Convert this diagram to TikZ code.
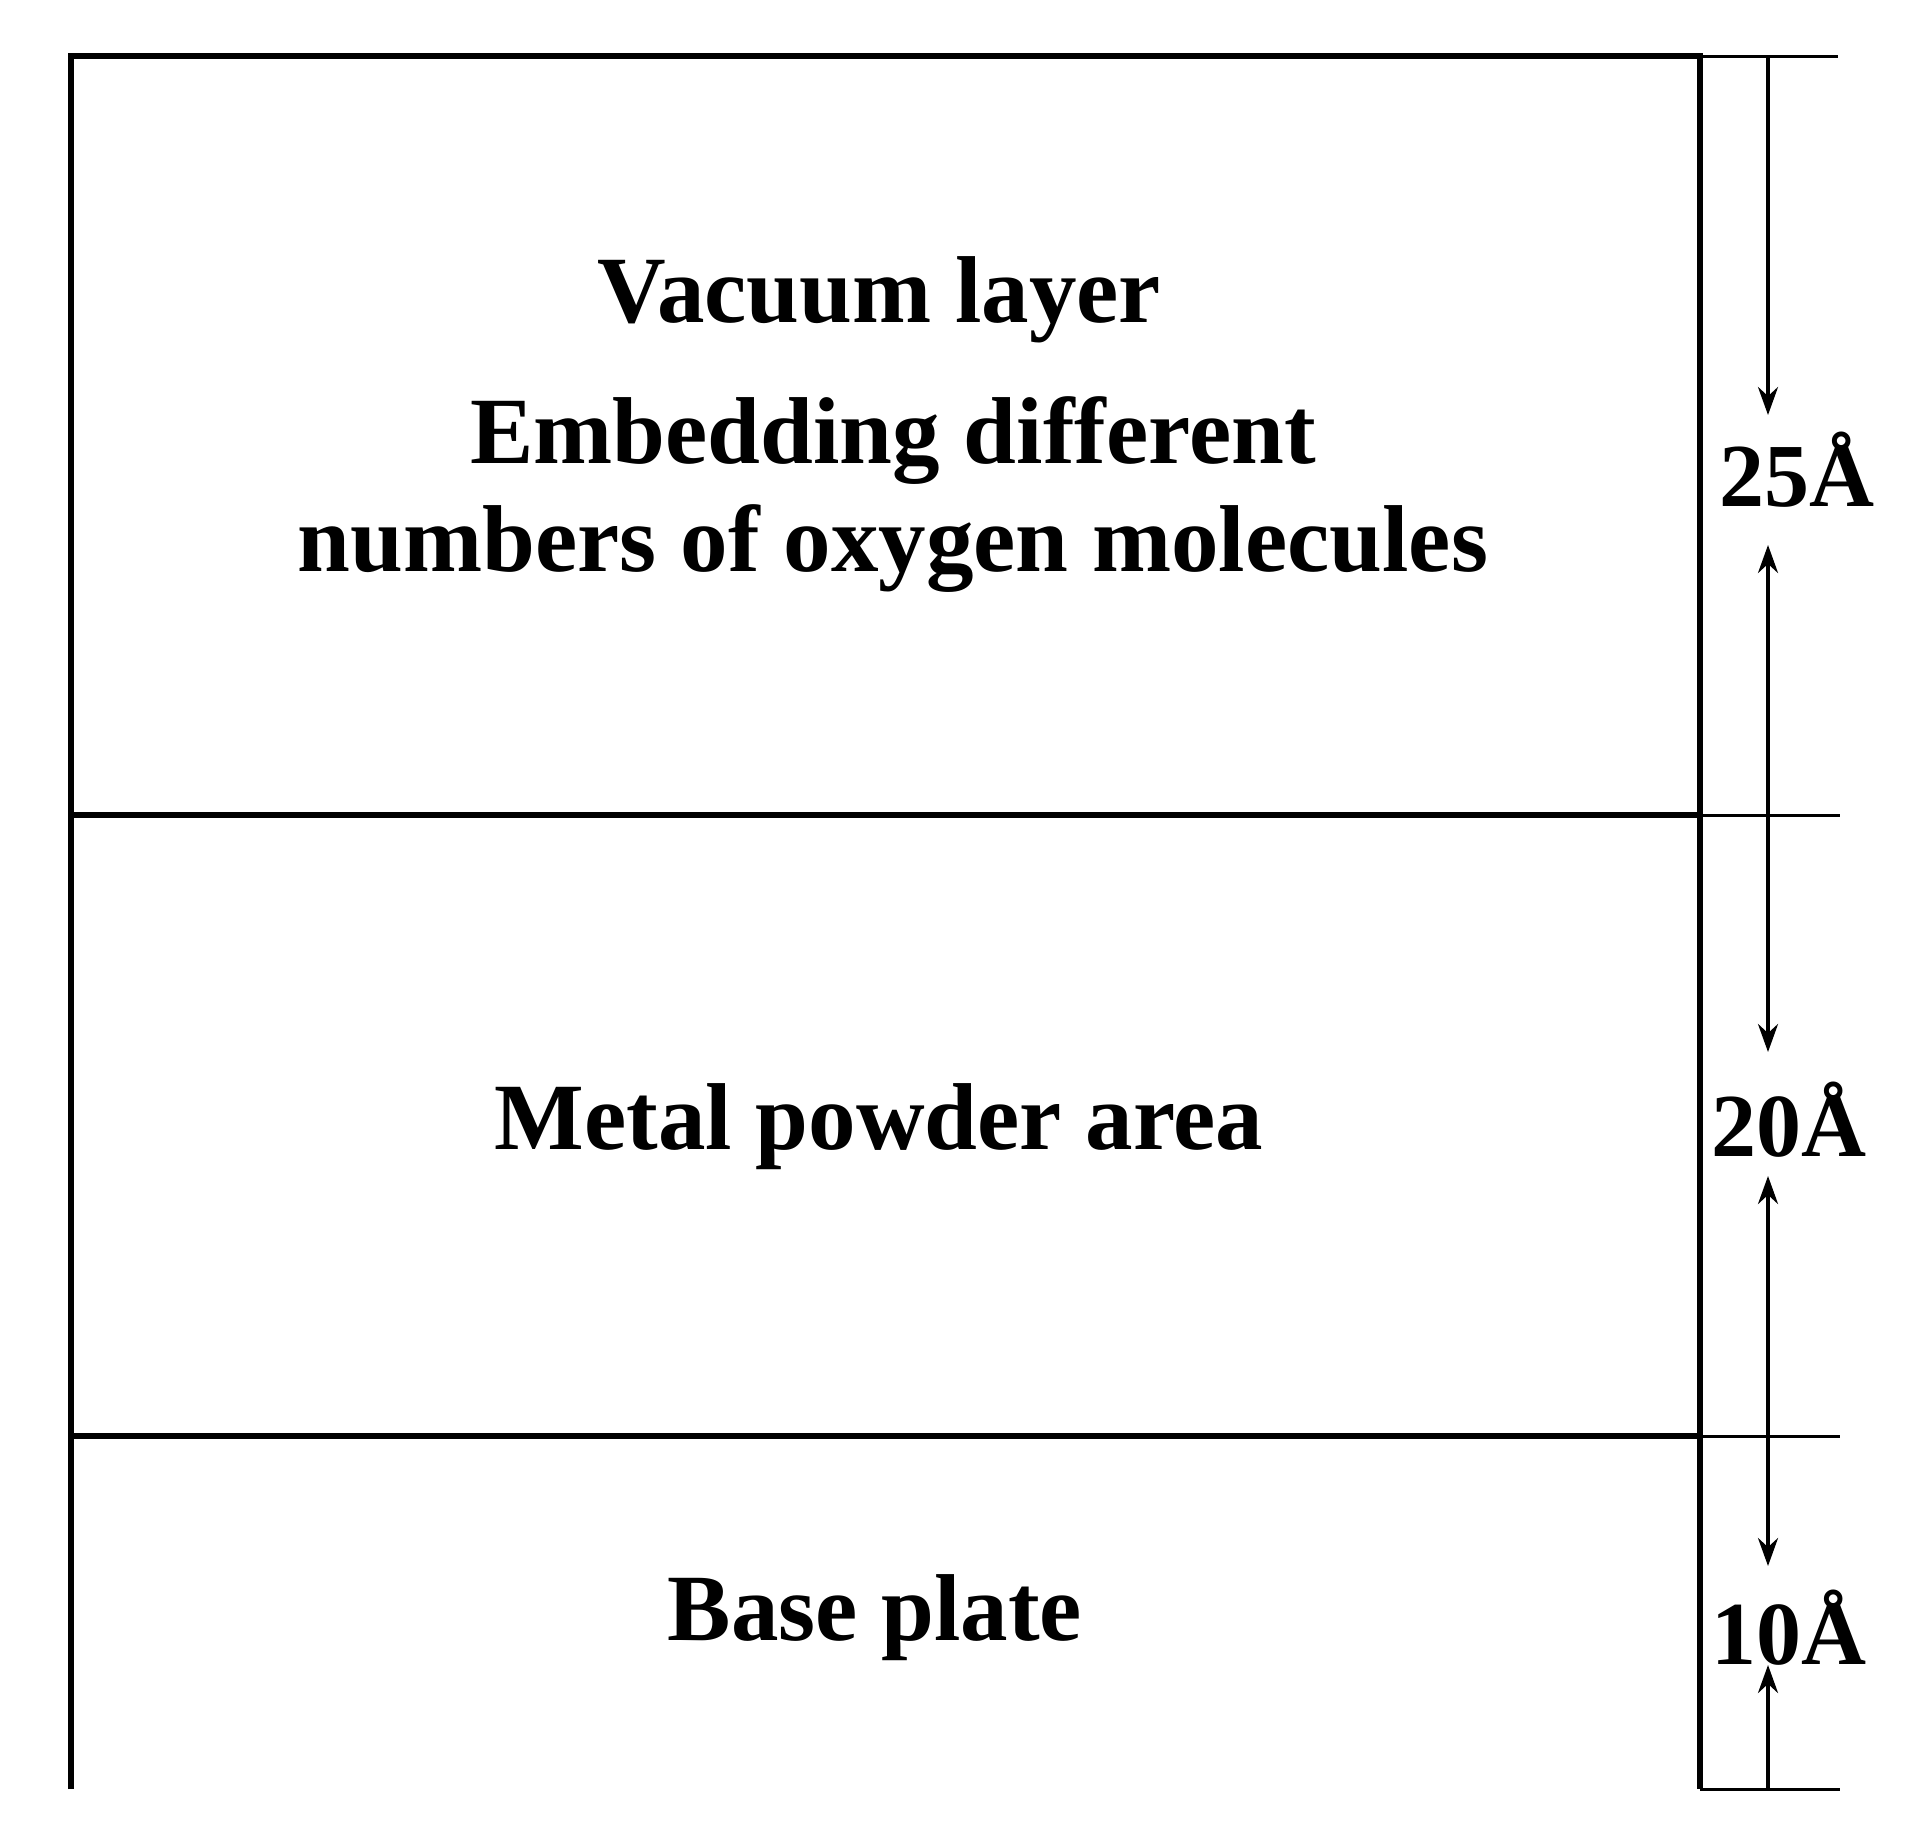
\documentclass[tikz,border=0pt]{standalone}
\usepackage{fontspec}
\setmainfont{Liberation Serif}
\usetikzlibrary{arrows.meta}
\begin{document}
\begin{tikzpicture}[x=0.5pt,y=-0.5pt,
  ln/.style={line width=3pt},
  ext/.style={line width=1.5pt},
  dim/.style={line width=1.8pt,-{Stealth[length=14pt,width=10pt]}},
  lbl/.style={font=\bfseries\fontsize{47.5}{54}\selectfont,align=center},
  dl/.style={font=\bfseries\fontsize{45}{50}\selectfont,inner sep=0pt}]
\useasboundingbox (0,0) rectangle (1932,1820);
\coordinate (tl) at (71,56); \coordinate (tr) at (1700,56);
\coordinate (bl) at (71,1789); \coordinate (br) at (1700,1789);
\draw[ln] (bl) -- (tl) -- (tr) -- (br);
\draw[ln] (71,815) -- (1700,815);
\draw[ln] (71,1436) -- (1700,1436);
\draw[ext] (1700,56) -- (1838,56);
\draw[ext] (1700,815) -- (1840,815);
\draw[ext] (1700,1436) -- (1840,1436);
\draw[ext] (1700,1789) -- (1840,1789);
\coordinate (a0) at (1768,56); \coordinate (a1) at (1768,415);
\coordinate (a2) at (1768,545); \coordinate (a3) at (1768,1052);
\coordinate (a4) at (1768,1176); \coordinate (a5) at (1768,1566);
\coordinate (a6) at (1768,1665); \coordinate (a7) at (1768,1789);
\draw[dim] (a0) -- (a1);
\draw[dim,{Stealth[length=14pt,width=10pt]}-{Stealth[length=14pt,width=10pt]}] (a2) -- (a3);
\draw[dim,{Stealth[length=14pt,width=10pt]}-{Stealth[length=14pt,width=10pt]}] (a4) -- (a5);
\draw[dim] (a7) -- (a6);
\node[lbl] (v) at (879,300) {Vacuum layer};
\node[lbl] (e) at (893,495) {Embedding different\\numbers of oxygen molecules};
\node[lbl] (m) at (879,1127) {Metal powder area};
\node[lbl] (b) at (875,1618) {Base plate};
\node[dl] (d1) at (1797,470) {25Å};
\node[dl] (d2) at (1789,1120) {20Å};
\node[dl] (d3) at (1789,1628) {10Å};
\end{tikzpicture}
\end{document}
